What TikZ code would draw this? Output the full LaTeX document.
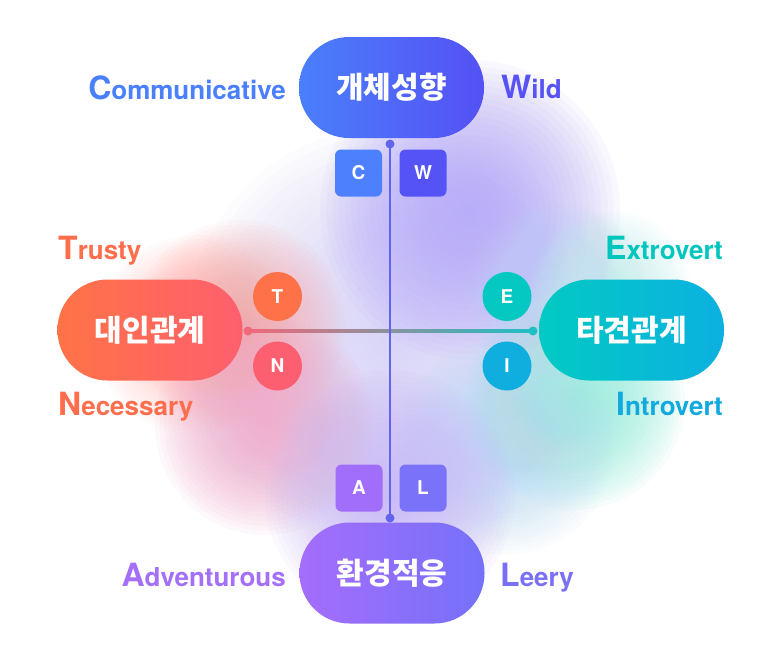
\documentclass[tikz,border=0pt]{standalone}
\usepackage{fontspec}
\setmainfont{TeX Gyre Heros}
\newfontfamily\kr{Noto Sans CJK KR}
\usetikzlibrary{calc}
\definecolor{topL}{HTML}{4A7FFB}\definecolor{topR}{HTML}{5551F5}
\definecolor{leftL}{HTML}{FF7347}\definecolor{leftR}{HTML}{FE5F6E}
\definecolor{rightL}{HTML}{02CAC3}\definecolor{rightR}{HTML}{0CB0E0}
\definecolor{botL}{HTML}{A56DFB}\definecolor{botR}{HTML}{7571FA}
\definecolor{cC}{HTML}{4D80FC}\definecolor{cW}{HTML}{5653F6}
\definecolor{cT}{HTML}{FE7149}\definecolor{cN}{HTML}{FC6070}
\definecolor{cE}{HTML}{06C8C2}\definecolor{cI}{HTML}{10AEDF}
\definecolor{cA}{HTML}{A16EFB}\definecolor{cL}{HTML}{7B72FA}
\definecolor{vline}{HTML}{6264EE}
\definecolor{hL}{HTML}{F0687A}\definecolor{hM}{HTML}{8F88A2}\definecolor{hR}{HTML}{1EBFC4}
\definecolor{tComm}{HTML}{4B80FC}\definecolor{tWild}{HTML}{5652F5}
\definecolor{tTN}{HTML}{FE6D4C}\definecolor{tExt}{HTML}{00C6BD}
\definecolor{tInt}{HTML}{12AADE}\definecolor{tAdv}{HTML}{A470FA}
\definecolor{tLee}{HTML}{7A70F6}
\definecolor{g1}{HTML}{D6D0F8}\definecolor{g2}{HTML}{B3A6F8}
\definecolor{g3}{HTML}{FFA8A8}\definecolor{g4}{HTML}{EFA9CC}
\definecolor{g5}{HTML}{90EEDC}\definecolor{g6}{HTML}{B8DAF6}
\definecolor{g7}{HTML}{C9B8F6}\definecolor{g8}{HTML}{BFD2F7}
\definecolor{g9}{HTML}{C5F0EE}\definecolor{g10}{HTML}{FFBCB6}
\newcommand\glowblob[5]{\foreach \k in {1,...,24}{\fill[#4, opacity=#5] (#1,#2) circle ({#3*\k/24*1pt});}}
\newcommand\twosize[2]{{\fontsize{32}{32}\selectfont #1}{\fontsize{26}{26}\selectfont #2}}
\begin{document}
\begin{tikzpicture}[x=1pt,y=-1pt,
  pill/.style={rectangle, rounded corners=50pt, minimum width=185pt, minimum height=101pt, inner sep=0pt, text=white, font=\kr\bfseries\fontsize{30}{30}\selectfont},
  sq/.style={rectangle, rounded corners=6pt, minimum size=47pt, inner sep=0pt, text=white, font=\bfseries\fontsize{19}{19}\selectfont},
  circ/.style={circle, minimum size=49pt, inner sep=0pt, text=white, font=\bfseries\fontsize{19}{19}\selectfont},
  dot/.style={circle, inner sep=0pt, minimum size=9pt},
  lbl/.style={inner sep=0pt, font=\bfseries}]
\useasboundingbox (0,0) rectangle (782,659);
\fill[white] (0,0) rectangle (782,659);
% glow
\glowblob{395}{335}{210}{g1}{0.06}
\glowblob{470}{210}{150}{g2}{0.07}
\glowblob{195}{335}{100}{g10}{0.05}
\glowblob{240}{325}{105}{g3}{0.06}
\glowblob{265}{425}{110}{g4}{0.07}
\glowblob{575}{400}{110}{g5}{0.07}
\glowblob{505}{445}{110}{g6}{0.06}
\glowblob{390}{495}{125}{g7}{0.07}
\glowblob{555}{290}{90}{g8}{0.06}
\glowblob{610}{290}{80}{g9}{0.06}
% pills
\node[pill, left color=topL, right color=topR] (top) at (391.5,87.5) {개체성향};
\node[pill, left color=leftL, right color=leftR] (left) at (150,330) {대인관계};
\node[pill, left color=rightL, right color=rightR] (right) at (631.5,330) {타견관계};
\node[pill, left color=botL, right color=botR] (bot) at (392,573) {환경적응};
% dots
\node[dot, fill=vline] (tdot) at (390,144) {};
\node[dot, fill=vline] (bdot) at (390,518) {};
\node[dot, fill=hL] (ldot) at (248,331) {};
\node[dot, fill=hR] (rdot) at (533,331) {};
% connectors
\shade[left color=hL, middle color=hM, right color=hR] ([yshift=1.1pt]ldot.center) rectangle ([yshift=-1.1pt]rdot.center);
\draw[vline, line width=2.2pt] (tdot.center) -- (bdot.center);
% squares and circles
\node[sq, fill=cC] (c) at (358.5,173) {C};
\node[sq, fill=cW] (w) at (423,173) {W};
\node[sq, fill=cA] (a) at (359,488) {A};
\node[sq, fill=cL] (l) at (423,488) {L};
\node[circ, fill=cT] (t) at (277.5,296.5) {T};
\node[circ, fill=cN] (n) at (277.5,366) {N};
\node[circ, fill=cE] (e) at (507,296.5) {E};
\node[circ, fill=cI] (i) at (507,366) {I};
% labels
\node[lbl, text=tComm, anchor=base east] (lcomm) at (286,99) {\twosize{C}{ommunicative}};
\node[lbl, text=tWild, anchor=base west] (lwild) at (501,98) {\twosize{W}{ild}};
\node[lbl, text=tTN, anchor=base west] (ltrust) at (58,259) {\twosize{T}{rusty}};
\node[lbl, text=tTN, anchor=base west] (lnec) at (58,415) {\twosize{N}{ecessary}};
\node[lbl, text=tExt, anchor=base east] (lext) at (723,259) {\twosize{E}{xtrovert}};
\node[lbl, text=tInt, anchor=base east] (lint) at (723,415) {\twosize{I}{ntrovert}};
\node[lbl, text=tAdv, anchor=base east] (ladv) at (286,586) {\twosize{A}{dventurous}};
\node[lbl, text=tLee, anchor=base west] (llee) at (500,586) {\twosize{L}{eery}};
\end{tikzpicture}
\end{document}
